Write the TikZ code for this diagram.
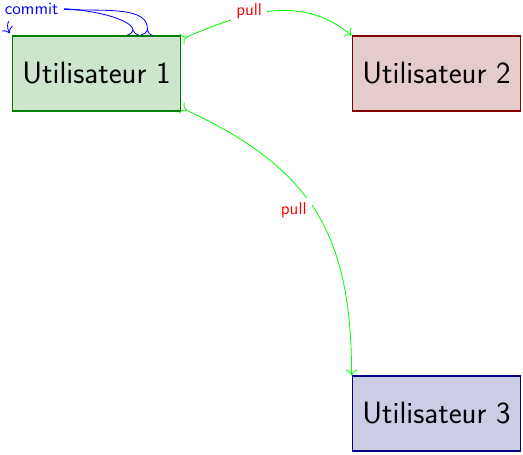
\documentclass[tikz,border=0pt]{standalone}
\usetikzlibrary{calc,arrows.meta}
\begin{document}
\begin{tikzpicture}[x=0.61pt,y=0.61pt, >={To[scale=1.3]},
  user/.style={draw, line width=1.1pt, minimum width=102.5pt, minimum height=45.3pt, inner sep=0pt, font=\sffamily\fontsize{18.8}{22}\selectfont},
  pullline/.style={>->, draw=green, line width=0.5pt},
  commitline/.style={>->, draw=blue, line width=0.5pt},
  pulllabel/.style={left=1.5pt, fill=white, text=red, font=\sffamily\fontsize{10.4}{12}\selectfont},
  commitlabel/.style={left, fill=white, text=blue, font=\sffamily\fontsize{10.4}{12}\selectfont}]
\useasboundingbox (0,0) rectangle (523,-455);
\node[user, draw=green!50!black, fill=green!50!black!20] (u1) at (96.5,-73.5) {Utilisateur 1};
\node[user, draw=red!50!black, fill=red!50!black!20] (u2) at (436.5,-73.5) {Utilisateur 2};
\node[user, draw=blue!50!black, fill=blue!50!black!20] (u3) at (436.5,-413.5) {Utilisateur 3};
\draw[pullline] (u1.22) to[out=23, in=140] node[pulllabel] {pull} (u2.north west);
\draw[pullline] (u1.-22) to[out=-25, in=90, looseness=1.15] node[pulllabel] {pull} (u3.north west);
\coordinate (ce) at ($(u1.north west)+(-2,2)$);
\draw[commitline] ($(u1.north)+(36.5,0)$) .. controls +(90:26) and +(115:45) .. node[commitlabel, pos=0.5] (cm) {commit} (ce);
\draw[commitline, >-] ($(u1.north)+(50.5,0)$) .. controls +(85:30) and +(-3:40) .. (cm.east);
\end{tikzpicture}
\end{document}
